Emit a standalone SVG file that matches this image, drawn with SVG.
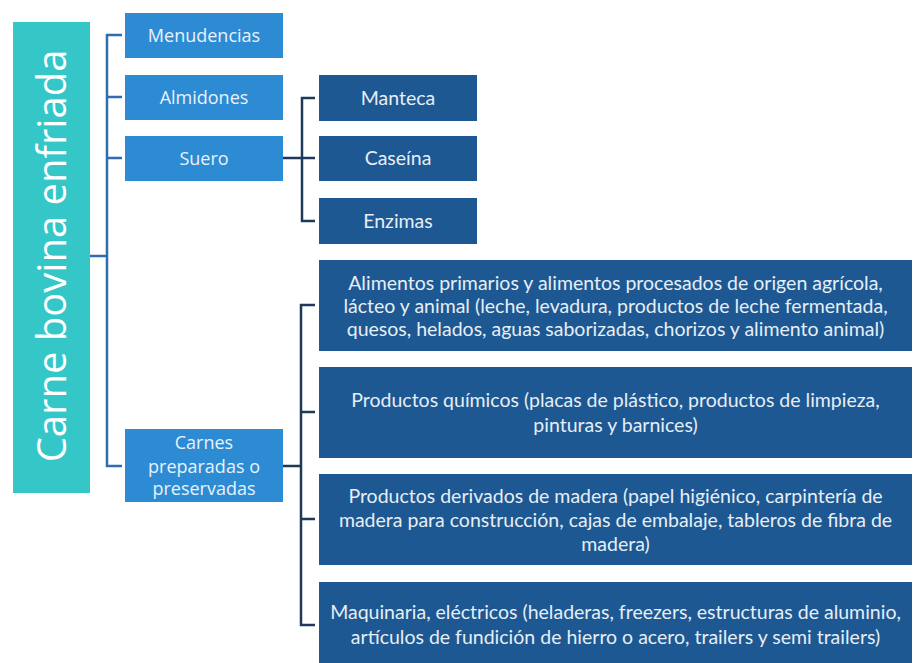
<svg xmlns="http://www.w3.org/2000/svg" width="915" height="663" viewBox="0 0 915 663">
<style>
.root{fill:#35C6C8}
.l1{fill:#2D8BD3}
.l2{fill:#1D5892}
.t1{font-family:"Open Sans","Noto Sans",sans-serif;font-size:18px;fill:#E8F2FB;text-anchor:middle}
.t2{font-family:Lato,"Liberation Sans",sans-serif;font-size:19.5px;fill:#E6EEF6;text-anchor:middle}
.c1{stroke:#2E6EAF;stroke-width:2.5;fill:none}
.c2{stroke:#1F3A58;stroke-width:2.5;fill:none}
</style>
<rect width="915" height="663" fill="#FFFFFF"/>
<g id="connectors">
<path class="c1" d="M90 256H107M122 35H107V466H122M107 97H122M107 158H122"/>
<path class="c2" d="M283 158H315M315 98H302V221H315"/>
<path class="c2" d="M283 466H301M315 305H301V625H315M301 412H315M301 519H315"/>
</g>
<g id="root">
<rect class="root" x="13" y="22" width="77" height="471"/>
<text x="0" y="0" transform="translate(65.5 256) rotate(-90)" font-family="'Open Sans','Noto Sans',sans-serif" font-size="40" fill="#FFFFFF" text-anchor="middle">Carne bovina enfriada</text>
</g>
<g id="menudencias"><rect class="l1" x="125" y="13" width="158" height="45"/><text class="t1" x="204" y="41.5">Menudencias</text></g>
<g id="almidones"><rect class="l1" x="125" y="75" width="158" height="45"/><text class="t1" x="204" y="103.5">Almidones</text></g>
<g id="suero"><rect class="l1" x="125" y="136" width="158" height="45"/><text class="t1" x="204" y="164.5">Suero</text></g>
<g id="carnes"><rect class="l1" x="125" y="429" width="158" height="73"/>
<text class="t1" x="204" y="449">Carnes</text><text class="t1" x="204" y="472.5">preparadas o</text><text class="t1" x="204" y="495">preservadas</text></g>
<g id="manteca"><rect class="l2" x="319" y="75" width="158" height="46"/><text class="t2" x="398" y="104.5">Manteca</text></g>
<g id="caseina"><rect class="l2" x="319" y="136" width="158" height="45"/><text class="t2" x="398" y="165">Caseína</text></g>
<g id="enzimas"><rect class="l2" x="319" y="198" width="158" height="46"/><text class="t2" x="398" y="227.5">Enzimas</text></g>
<g id="alimentos"><rect class="l2" x="319" y="260" width="593" height="91"/>
<text class="t2" x="615.5" y="289.5">Alimentos primarios y alimentos procesados de origen agrícola,</text>
<text class="t2" x="615.5" y="312.5">lácteo y animal (leche, levadura, productos de leche fermentada,</text>
<text class="t2" x="615.5" y="335.5">quesos, helados, aguas saborizadas, chorizos y alimento animal)</text></g>
<g id="quimicos"><rect class="l2" x="319" y="367" width="593" height="91"/>
<text class="t2" x="615.5" y="406.5">Productos químicos (placas de plástico, productos de limpieza,</text>
<text class="t2" x="615.5" y="431.5">pinturas y barnices)</text></g>
<g id="madera"><rect class="l2" x="319" y="474" width="593" height="91"/>
<text class="t2" x="615.5" y="502.5">Productos derivados de madera (papel higiénico, carpintería de</text>
<text class="t2" x="615.5" y="526.5">madera para construcción, cajas de embalaje, tableros de fibra de</text>
<text class="t2" x="615.5" y="550.5">madera)</text></g>
<g id="maquinaria"><rect class="l2" x="319" y="582" width="593" height="86"/>
<text class="t2" x="615.5" y="618.5">Maquinaria, eléctricos (heladeras, freezers, estructuras de aluminio,</text>
<text class="t2" x="615.5" y="643.5">artículos de fundición de hierro o acero, trailers y semi trailers)</text></g>
</svg>
